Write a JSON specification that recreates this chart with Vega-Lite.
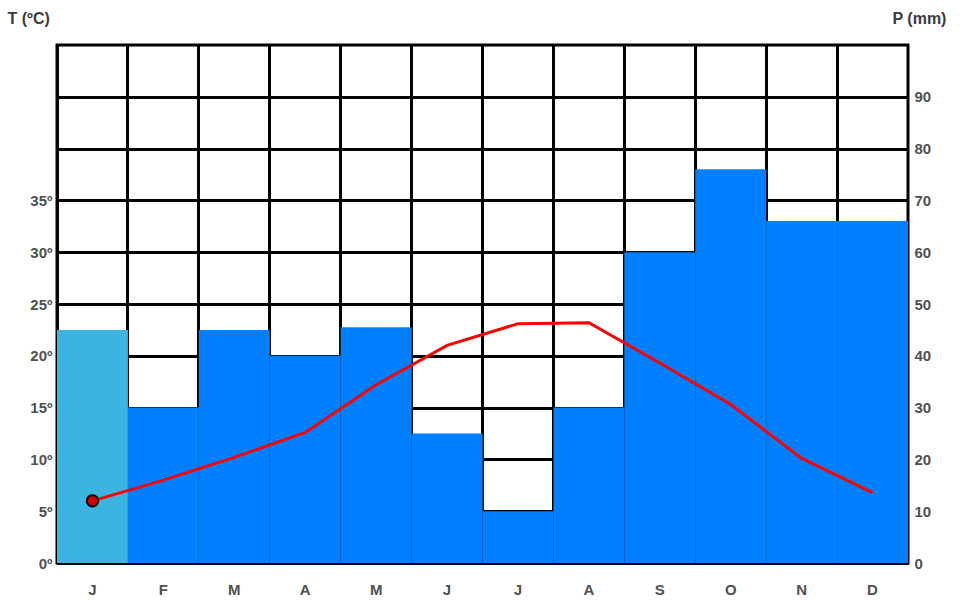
{
  "$schema": "https://vega.github.io/schema/vega-lite/v6.json",
  "autosize": "none",
  "width": 851,
  "height": 518,
  "padding": {"left": 57, "top": 45, "right": 55, "bottom": 44},
  "background": "white",
  "config": {
    "view": {"stroke": "black", "strokeWidth": 3},
    "font": "Liberation Sans",
    "axis": {"labelFont": "Liberation Sans", "labelFontWeight": "bold", "labelColor": "#505050", "labelFontSize": 15, "titleFont": "Liberation Sans", "titleFontWeight": "bold", "titleColor": "#3a3a3a", "titleFontSize": 16}
  },
  "data": {
    "values": [
      {"month": "Jan", "P": 45, "T": 6},
      {"month": "Feb", "P": 30, "T": 8},
      {"month": "Mar", "P": 45, "T": 10.2},
      {"month": "Apr", "P": 40, "T": 12.6},
      {"month": "May", "P": 45.5, "T": 17.2},
      {"month": "Jun", "P": 25, "T": 21},
      {"month": "Jul", "P": 10, "T": 23.1},
      {"month": "Aug", "P": 30, "T": 23.2},
      {"month": "Sep", "P": 60, "T": 19.3},
      {"month": "Oct", "P": 76, "T": 15.3},
      {"month": "Nov", "P": 66, "T": 10.1},
      {"month": "Dec", "P": 66, "T": 6.8}
    ]
  },
  "encoding": {
    "x": {
      "field": "month", "type": "ordinal", "sort": null,
      "scale": {"paddingInner": 0, "paddingOuter": 0},
      "axis": {"title": null, "labelAngle": 0, "labelExpr": "substring(datum.label, 0, 1)", "labelPadding": 19, "ticks": false, "domain": false, "grid": true, "gridColor": "black", "gridWidth": 3, "bandPosition": 0}
    }
  },
  "layer": [
    {
      "mark": {"type": "bar"},
      "encoding": {
        "y": {
          "field": "P", "type": "quantitative",
          "scale": {"domain": [0, 100], "nice": false},
          "axis": {"orient": "right", "title": "P (mm)", "titleAngle": 0, "titleAlign": "left", "titleBaseline": "middle", "titleX": -16, "titleY": -27, "values": [0, 10, 20, 30, 40, 50, 60, 70, 80, 90], "ticks": false, "domain": false, "labelPadding": 6, "grid": true, "gridColor": "black", "gridWidth": 3}
        },
        "color": {
          "condition": {"test": "datum.month == 'Jan'", "value": "#3cb4df"},
          "value": "#0080ff"
        }
      }
    },
    {
      "mark": {"type": "line", "color": "#ff0000", "strokeWidth": 3},
      "encoding": {
        "y": {
          "field": "T", "type": "quantitative",
          "scale": {"domain": [0, 50], "nice": false},
          "axis": {"orient": "left", "title": "T (ºC)", "titleAngle": 0, "titleAlign": "left", "titleBaseline": "middle", "titleX": -50, "titleY": -27, "values": [0, 5, 10, 15, 20, 25, 30, 35], "labelExpr": "datum.value + 'º'", "ticks": false, "domain": false, "grid": false, "labelPadding": 5}
        }
      }
    },
    {
      "transform": [{"filter": "datum.month == 'Jan'"}],
      "mark": {"type": "point", "filled": true, "color": "#d00000", "stroke": "black", "strokeWidth": 2, "size": 130, "opacity": 1},
      "encoding": {
        "y": {"field": "T", "type": "quantitative", "scale": {"domain": [0, 50], "nice": false}, "axis": null}
      }
    }
  ],
  "resolve": {"scale": {"y": "independent"}}
}
